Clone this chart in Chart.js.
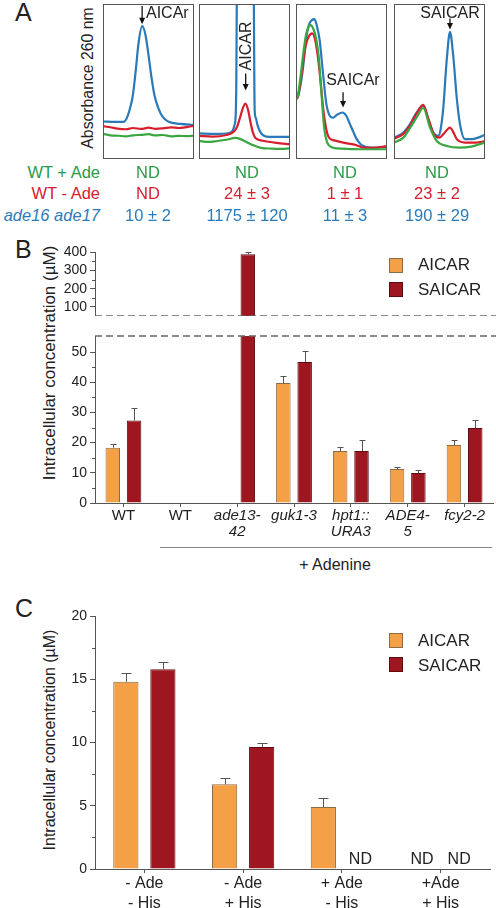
<!DOCTYPE html>
<html><head><meta charset="utf-8">
<script src="https://cdn.jsdelivr.net/npm/chart.js@4.4.0/dist/chart.umd.min.js"></script>
<style>
body{margin:0;width:496px;height:908px;position:relative;background:#fff;font-family:"Liberation Sans",Arial,Helvetica,sans-serif;overflow:hidden;color:#222}
.t{position:absolute;white-space:nowrap}
.frame{position:absolute;top:4px;width:91px;height:155px;border:1.5px solid #555;box-sizing:border-box;pointer-events:none}
canvas{position:absolute;display:block}
.rot{position:absolute;transform:translate(-50%,-50%) rotate(-90deg);white-space:nowrap}
.sq{position:absolute;width:14px;height:15px;box-sizing:border-box;border:1px solid}
</style></head><body>

<!-- Panel A -->
<div class="t" style="left:15px;top:0px;font-size:25px;line-height:25px">A</div>
<div class="rot" style="left:88px;top:78px;font-size:15.8px">Absorbance 260 nm</div>

<canvas id="c1" width="91" height="155" style="left:103px;top:4px"></canvas>
<canvas id="c2" width="91" height="155" style="left:199px;top:4px"></canvas>
<canvas id="c3" width="91" height="155" style="left:296px;top:4px"></canvas>
<canvas id="c4" width="91" height="155" style="left:394px;top:4px"></canvas>
<div class="frame" style="left:103px"></div>
<div class="frame" style="left:199px"></div>
<div class="frame" style="left:296px"></div>
<div class="frame" style="left:394px"></div>

<div class="t" style="left:146px;top:4px;font-size:16px;line-height:18px">AICAr</div>
<div class="rot" style="left:246px;top:46px;font-size:16px">AICAR</div>
<div class="t" style="left:353px;top:71px;font-size:16px;line-height:18px;transform:translateX(-50%)">SAICAr</div>
<div class="t" style="left:450px;top:4px;font-size:16px;line-height:18px;transform:translateX(-50%)">SAICAR</div>

<div id="tbl"></div>

<!-- Panel B -->
<div class="t" style="left:15px;top:237px;font-size:25px;line-height:25px">B</div>
<div class="rot" style="left:50px;top:363px;font-size:17px">Intracellular concentration (µM)</div>
<canvas id="bUp" width="496" height="76" style="left:0;top:240px"></canvas>
<canvas id="bLo" width="496" height="227" style="left:0;top:320px"></canvas>
<div class="sq" style="left:389px;top:258px;background:#F4A047;border-color:#8c6b47"></div>
<div class="t" style="left:418px;top:255px;font-size:17px;line-height:20px">AICAR</div>
<div class="sq" style="left:389px;top:282px;background:#9e1620;border-color:#5e0c12"></div>
<div class="t" style="left:418px;top:280px;font-size:17px;line-height:20px">SAICAR</div>
<div style="position:absolute;left:160px;top:547px;width:332px;height:0;border-top:1.5px solid #888"></div>
<div class="t" style="left:335px;top:555px;font-size:16px;line-height:20px;transform:translateX(-50%)">+ Adenine</div>

<!-- Panel C -->
<div class="t" style="left:15px;top:596px;font-size:25px;line-height:25px">C</div>
<div class="rot" style="left:50px;top:740px;font-size:16px">Intracellular concentration (µM)</div>
<canvas id="cC" width="496" height="308" style="left:0;top:600px"></canvas>
<div class="sq" style="left:389px;top:633px;background:#F4A047;border-color:#8c6b47"></div>
<div class="t" style="left:418px;top:631px;font-size:17px;line-height:20px">AICAR</div>
<div class="sq" style="left:389px;top:657px;background:#9e1620;border-color:#5e0c12"></div>
<div class="t" style="left:418px;top:656px;font-size:17px;line-height:20px">SAICAR</div>

<script>
// ---------- Panel A: chromatograms (x: % of box width, y: % of box height) ----------
const box1Blue=[[0,24.2],[13.6,24],[22.4,24],[25.8,26],[29.1,31.5],[32.5,40],[35.8,56],[39.1,75],[43,85.7],[46.7,80],[50,67],[53.3,52.6],[56.6,41],[61,32.5],[65.5,27.3],[72,24],[85,22.7],[100,22]];
const box1Red=[[0,21.2],[8,20.5],[16,19.6],[25,19.2],[33,20],[42,19.4],[50,20.2],[58,19.5],[66,19.8],[75,20.4],[83,20],[92,20.6],[100,21.4]];
const box1Green=[[0,16.2],[8,15.3],[17,15],[25,14.6],[33,15.3],[42,15.6],[50,16],[58,15.2],[66,15.5],[75,14.6],[83,14.9],[92,14.8],[100,15]];

const box2Blue=[[0,16.5],[17,16.2],[33,16.8],[36.7,18],[38.8,21.5],[40.3,28],[41,50],[41.5,100],[42.2,150],[50,200],[59.5,150],[60.3,100],[60.8,50],[61.2,31],[62.5,26.5],[64.2,22],[67.8,17],[71.4,15],[77.7,14.3],[100,14.3]];
const box2Red=[[0,14.9],[15,14.5],[30,15.5],[38,17.5],[42,21],[45,26.5],[48,32.5],[51,35.7],[54,31.5],[56.5,24],[59,17.5],[62,13.5],[70,11.8],[85,10.4],[100,9.5]];
const box2Green=[[0,11.7],[10,11],[20,11.6],[30,12.4],[40,13.6],[45,13],[52,11],[60,8.8],[68,7.2],[80,6.7],[90,6.5],[100,6.8]];

const box3Blue=[[0,38.8],[1.9,39.8],[5.2,48.5],[7.8,59.3],[10.8,76.6],[14.1,86.4],[17.4,89.6],[20.4,90.3],[23,85.7],[26,76.6],[29.7,55.2],[33.3,35.7],[37.1,27.9],[40.8,26.6],[45.2,28.6],[51.1,30],[55.2,27.9],[59.3,22.5],[63,17.5],[66.7,12.8],[70.8,9.7],[74.1,8.4],[81.9,7.3],[100,7.8]];
const box3Red=[[0,38.8],[2,40],[5,50],[8,63],[11,74],[14,79],[17.8,81],[21,77],[24,66],[27,50],[30,32],[33,20],[36,14],[42,12],[52,10.6],[66.7,8.9],[74,7.3],[85,7.2],[100,8.3]];
const box3Green=[[0,38.8],[2,41],[5,53],[8,68],[11,80],[13.5,85],[16,86.4],[19,84],[22,78],[25,66],[28,42],[31,20],[34,11],[38,8],[45,6.8],[70,6.3],[100,6.3]];

const box4Blue=[[0,13.8],[10.3,17.1],[17.6,22.5],[24.9,30],[32.2,34.4],[37.7,25.8],[43.2,17.1],[48.7,14.9],[51.5,20],[54.2,33.3],[57.9,63.6],[61.5,82],[65.2,65.8],[68.9,39.8],[72.5,22.5],[78,12.8],[85.4,12.8],[92.6,13.8],[100,15.6]];
const box4Red=[[0,13.2],[10,16],[17.6,21.5],[25,29.5],[32,34.9],[37.7,26],[43,17],[49.8,13.8],[55,16.5],[61.5,20.3],[65,17.5],[69,12.8],[78,10.6],[90,10.6],[100,11.5]];
const box4Green=[[0,10.6],[10.3,13.8],[17.6,20],[24.9,26.8],[32.2,32.9],[39.6,20.3],[46.9,11.7],[57.9,8.4],[72.5,7.3],[85,8],[100,10.6]];

// arrows: x, from y1 (top) to y2 (tip)
const box1Arrow=[43,98.7,87];
const box2Arrow=[51.3,55.2,44.2];
const box3Arrow=[51.7,43,33.3];
const box4Arrow=[61.5,90.7,83.6];

// table under panel A
const rowLabels=['WT + Ade','WT -  Ade','ade16 ade17'];
const rowColors=['#2a9a47','#d42030','#2b7bb9'];
const tableValues=[
  ['ND','ND','ND','ND'],
  ['ND','24 ± 3','1 ± 1','23 ± 2'],
  ['10 ± 2','1175 ± 120','11 ± 3','190 ± 29']
];

// ---------- Panel B ----------
const catsB=['WT','WT',['ade13-','42'],'guk1-3',['hpt1::','URA3'],['ADE4-','5'],'fcy2-2'];
const aicarB=[18.3,null,null,39.7,17.2,11.3,19.2];
const aicarErrB=[1.2,null,null,2.3,1.3,0.6,1.7];
const saicarB=[27.3,null,389,46.7,17.2,9.9,24.8];
const saicarErrB=[4.2,null,11,3.6,3.7,1.0,2.7];
const ticksBUpper=[100,200,300,400];
const minorBUpper=[150,250,350];
const ticksBLower=[0,10,20,30,40,50];
const minorBLower=[5,15,25,35,45];

// ---------- Panel C ----------
const catsC=[['- Ade','- His'],['- Ade','+ His'],['+ Ade','- His'],['+Ade','+ His']];
const aicarC=[14.8,6.7,4.9,null];
const aicarErrC=[0.7,0.5,0.7,null];
const saicarC=[15.8,9.65,null,null];
const saicarErrC=[0.55,0.3,null,null];
const ticksC=[0,5,10,15,20];
const minorC=[2.5,7.5,12.5,17.5];

const BLUE='#2a7ab9', RED='#d81e2c', GREEN='#3aa640';
const AIC_FILL='#F4A047', AIC_BORDER='#8c6b47', SAI_FILL='#9e1620', SAI_BORDER='#5e0c12';

Chart.defaults.font.family='"Liberation Sans", Arial, Helvetica, sans-serif';
Chart.defaults.color='#222';
Chart.defaults.animation=false;

// table text
(function(){
  const tbl=document.getElementById('tbl');
  const rowsY=[172,193,215], colX=[148,247,345,437];
  rowLabels.forEach((lab,r)=>{
    const d=document.createElement('div');
    d.className='t';
    d.textContent=lab;
    d.style.cssText=`right:${496-100}px;top:${rowsY[r]-10}px;font-size:16.5px;line-height:20px;color:${rowColors[r]};${r===2?'font-style:italic;':''}`;
    tbl.appendChild(d);
    tableValues[r].forEach((v,c)=>{
      const e=document.createElement('div');
      e.className='t';
      e.textContent=v;
      e.style.cssText=`left:${colX[c]}px;top:${rowsY[r]-10}px;font-size:16.5px;line-height:20px;color:${rowColors[r]};transform:translateX(-50%)`;
      tbl.appendChild(e);
    });
  });
})();

const arrowPlugin={id:'arrows',afterDatasetsDraw(chart,args,opts){
  const a=opts.arrow; if(!a) return;
  const {ctx,scales:{x,y}}=chart;
  const px=x.getPixelForValue(a[0]), p1=y.getPixelForValue(a[1]), p2=y.getPixelForValue(a[2]);
  ctx.save();
  ctx.strokeStyle='#111'; ctx.fillStyle='#111'; ctx.lineWidth=1.3;
  ctx.beginPath(); ctx.moveTo(px,p1); ctx.lineTo(px,p2-5); ctx.stroke();
  ctx.beginPath(); ctx.moveTo(px-3,p2-6.5); ctx.lineTo(px+3,p2-6.5); ctx.lineTo(px,p2); ctx.closePath(); ctx.fill();
  ctx.restore();
}};

function chrom(id,blue,red,green,arrow){
  const mk=(pts,color,order)=>({data:pts.map(p=>({x:p[0],y:p[1]})),borderColor:color,borderWidth:2.2,pointRadius:0,cubicInterpolationMode:'monotone',fill:false,order});
  new Chart(document.getElementById(id),{
    type:'line',
    data:{datasets:[mk(blue,BLUE,2),mk(red,RED,1),mk(green,GREEN,0)]},
    options:{responsive:false,animation:false,events:[],layout:{padding:0},
      plugins:{legend:{display:false},tooltip:{enabled:false},arrows:{arrow}},
      scales:{x:{type:'linear',min:0,max:100,display:false},y:{min:0,max:100,display:false}}},
    plugins:[arrowPlugin]
  });
}
chrom('c1',box1Blue,box1Red,box1Green,box1Arrow);
chrom('c2',box2Blue,box2Red,box2Green,box2Arrow);
chrom('c3',box3Blue,box3Red,box3Green,box3Arrow);
chrom('c4',box4Blue,box4Red,box4Green,box4Arrow);

// ---------- bar chart plugins ----------
const errPlugin={id:'errbars',afterDatasetsDraw(chart,args,opts){
  const ctx=chart.ctx, ca=chart.chartArea, ys=chart.scales.y;
  ctx.save();
  ctx.beginPath(); ctx.rect(ca.left,ca.top-1,ca.right-ca.left,ca.bottom-ca.top+1); ctx.clip();
  ctx.strokeStyle='#555'; ctx.lineWidth=1;
  chart.data.datasets.forEach((ds,i)=>{
    const meta=chart.getDatasetMeta(i);
    (ds.errors||[]).forEach((e,j)=>{
      const v=ds.data[j]; if(v==null||e==null) return;
      const x=Math.round(meta.data[j].x)+0.5, y0=ys.getPixelForValue(v), y1=Math.round(ys.getPixelForValue(v+e))+0.5;
      const w=opts.cap||6;
      ctx.beginPath(); ctx.moveTo(x,y0); ctx.lineTo(x,y1); ctx.moveTo(x-w/2,y1); ctx.lineTo(x+w/2,y1); ctx.stroke();
    });
  });
  ctx.restore();
}};
const minorPlugin={id:'minor',afterDraw(chart,args,opts){
  if(!opts.values) return;
  const ctx=chart.ctx, ys=chart.scales.y, x=chart.chartArea.left;
  ctx.save(); ctx.strokeStyle='#555'; ctx.lineWidth=1;
  opts.values.forEach(v=>{const py=Math.round(ys.getPixelForValue(v))+0.5; ctx.beginPath(); ctx.moveTo(x-3,py); ctx.lineTo(x,py); ctx.stroke();});
  ctx.restore();
}};
const dashPlugin={id:'dash',afterDraw(chart,args,opts){
  if(!opts.edge) return;
  const ctx=chart.ctx, ca=chart.chartArea;
  const y=(opts.edge==='bottom'?ca.bottom:ca.top);
  ctx.save(); ctx.strokeStyle='#666'; ctx.lineWidth=1.5; ctx.setLineDash([7,4]);
  ctx.beginPath(); ctx.moveTo(ca.left,y); ctx.lineTo(chart.width,y); ctx.stroke();
  ctx.restore();
}};
const ndPlugin={id:'nd',afterDatasetsDraw(chart,args,opts){
  if(!opts.show) return;
  const ctx=chart.ctx, ca=chart.chartArea, xs=chart.scales.x;
  ctx.save(); ctx.fillStyle='#222'; ctx.font='16px "Liberation Sans", Arial, sans-serif'; ctx.textAlign='center'; ctx.textBaseline='middle';
  chart.data.datasets.forEach((ds,i)=>{
    const meta=chart.getDatasetMeta(i);
    ds.data.forEach((v,j)=>{
      if(v!==null) return;
      let x=meta.data[j]&&isFinite(meta.data[j].x)?meta.data[j].x:null;
      if(x===null){const w=xs.width/xs.ticks.length*0.75/2; x=xs.getPixelForValue(j)+(i===0?-w/2:w/2);}
      ctx.fillText('ND',x,ca.bottom-9);
    });
  });
  ctx.restore();
}};

function bars(a,ae,s,se){
  return [
    {label:'AICAR',data:a,errors:ae,backgroundColor:AIC_FILL,borderColor:AIC_BORDER,borderWidth:1,categoryPercentage:0.75,barPercentage:0.68},
    {label:'SAICAR',data:s,errors:se,backgroundColor:SAI_FILL,borderColor:SAI_BORDER,borderWidth:1,categoryPercentage:0.75,barPercentage:0.68}
  ];
}
const yBase=(min,max,ticks)=>({
  min,max,
  afterFit:s=>{s.width=95; s.paddingTop=0; s.paddingBottom=0;},
  afterBuildTicks:s=>{s.ticks=ticks.map(v=>({value:v}));},
  grid:{drawOnChartArea:false,drawTicks:true,tickLength:5,tickColor:'#555'},
  border:{display:true,color:'#555',width:1},
  ticks:{font:{size:14},color:'#222',padding:3,autoSkip:false}
});

// Panel B upper
new Chart(document.getElementById('bUp'),{
  type:'bar',
  data:{labels:catsB,datasets:bars(aicarB,aicarErrB,saicarB,saicarErrB)},
  options:{responsive:false,animation:false,events:[],layout:{padding:{top:12,right:3,left:0,bottom:0}},
    plugins:{legend:{display:false},tooltip:{enabled:false},errbars:{cap:6},minor:{values:minorBUpper},dash:{edge:'bottom'}},
    scales:{x:{display:false},y:yBase(50,402,ticksBUpper)}},
  plugins:[errPlugin,minorPlugin,dashPlugin]
});
// Panel B lower
new Chart(document.getElementById('bLo'),{
  type:'bar',
  data:{labels:catsB,datasets:bars(aicarB,aicarErrB,saicarB,saicarErrB)},
  options:{responsive:false,animation:false,events:[],layout:{padding:{top:16,right:3,left:0,bottom:0}},
    plugins:{legend:{display:false},tooltip:{enabled:false},errbars:{cap:6},minor:{values:minorBLower},dash:{edge:'top'}},
    scales:{
      x:{afterFit:s=>{s.height=44;},grid:{offset:false,drawOnChartArea:false,drawTicks:true,tickLength:4,tickColor:'#555'},
        border:{display:true,color:'#555',width:1},
        ticks:{padding:1,color:'#222',maxRotation:0,autoSkip:false,font:c=>({size:15,lineHeight:1.08,style:c.index<2?'normal':'italic'})}},
      y:yBase(0,55.3,ticksBLower)}},
  plugins:[errPlugin,minorPlugin,dashPlugin]
});
// Panel C
new Chart(document.getElementById('cC'),{
  type:'bar',
  data:{labels:catsC,datasets:bars(aicarC,aicarErrC,saicarC,saicarErrC)},
  options:{responsive:false,animation:false,events:[],layout:{padding:{top:16,right:6,left:0,bottom:0}},
    plugins:{legend:{display:false},tooltip:{enabled:false},errbars:{cap:10},minor:{values:minorC},nd:{show:true}},
    scales:{
      x:{afterFit:s=>{s.height=39;},grid:{offset:false,drawOnChartArea:false,drawTicks:true,tickLength:4,tickColor:'#555'},
        border:{display:true,color:'#555',width:1},
        ticks:{padding:1,color:'#222',maxRotation:0,autoSkip:false,font:{size:16,lineHeight:1.25}}},
      y:yBase(0,20,ticksC)}},
  plugins:[errPlugin,minorPlugin,ndPlugin]
});
</script>
</body></html>
